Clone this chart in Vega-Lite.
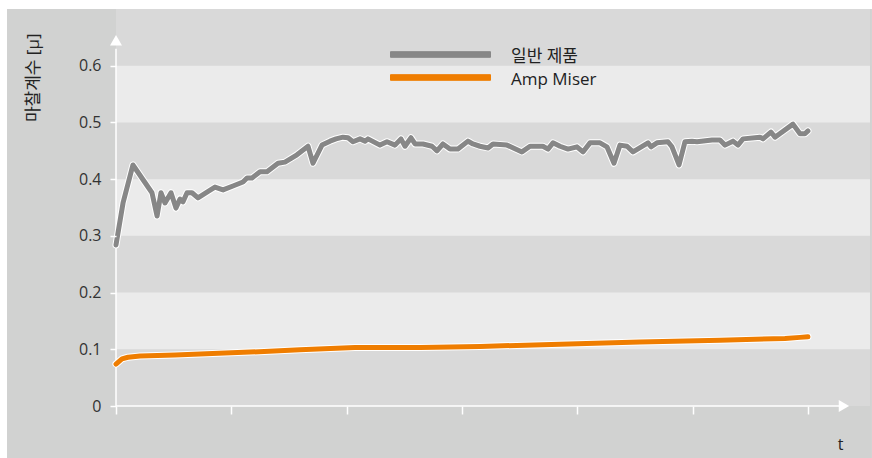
{
  "$schema": "https://vega.github.io/schema/vega-lite/v6.json",
  "autosize": {"type": "none"},
  "width": 754,
  "height": 397,
  "padding": {"left": 116, "top": 9, "right": 2, "bottom": 52},
  "background": "white",
  "config": {
    "view": {"stroke": null},
    "font": "Open Sans, Noto Sans CJK KR",
    "axis": {"labelFont": "Open Sans, Noto Sans CJK KR", "titleFont": "Open Sans, Noto Sans CJK KR"}
  },
  "datasets": {
    "lines": [
      {"series": "일반 제품", "t": 0, "mu": 0.284},
      {"series": "일반 제품", "t": 0.061, "mu": 0.358},
      {"series": "일반 제품", "t": 0.147, "mu": 0.425},
      {"series": "일반 제품", "t": 0.312, "mu": 0.376},
      {"series": "일반 제품", "t": 0.356, "mu": 0.335},
      {"series": "일반 제품", "t": 0.39, "mu": 0.376},
      {"series": "일반 제품", "t": 0.425, "mu": 0.358},
      {"series": "일반 제품", "t": 0.477, "mu": 0.376},
      {"series": "일반 제품", "t": 0.52, "mu": 0.349},
      {"series": "일반 제품", "t": 0.555, "mu": 0.365},
      {"series": "일반 제품", "t": 0.581, "mu": 0.36},
      {"series": "일반 제품", "t": 0.616, "mu": 0.376},
      {"series": "일반 제품", "t": 0.659, "mu": 0.376},
      {"series": "일반 제품", "t": 0.711, "mu": 0.367},
      {"series": "일반 제품", "t": 0.789, "mu": 0.377},
      {"series": "일반 제품", "t": 0.858, "mu": 0.386},
      {"series": "일반 제품", "t": 0.928, "mu": 0.381},
      {"series": "일반 제품", "t": 1.014, "mu": 0.388},
      {"series": "일반 제품", "t": 1.101, "mu": 0.395},
      {"series": "일반 제품", "t": 1.136, "mu": 0.402},
      {"series": "일반 제품", "t": 1.179, "mu": 0.402},
      {"series": "일반 제품", "t": 1.249, "mu": 0.413},
      {"series": "일반 제품", "t": 1.309, "mu": 0.413},
      {"series": "일반 제품", "t": 1.405, "mu": 0.428},
      {"series": "일반 제품", "t": 1.465, "mu": 0.43},
      {"series": "일반 제품", "t": 1.569, "mu": 0.443},
      {"series": "일반 제품", "t": 1.665, "mu": 0.458},
      {"series": "일반 제품", "t": 1.708, "mu": 0.428},
      {"series": "일반 제품", "t": 1.786, "mu": 0.46},
      {"series": "일반 제품", "t": 1.856, "mu": 0.467},
      {"series": "일반 제품", "t": 1.908, "mu": 0.471},
      {"series": "일반 제품", "t": 1.968, "mu": 0.474},
      {"series": "일반 제품", "t": 2.012, "mu": 0.473},
      {"series": "일반 제품", "t": 2.055, "mu": 0.466},
      {"series": "일반 제품", "t": 2.116, "mu": 0.471},
      {"series": "일반 제품", "t": 2.159, "mu": 0.467},
      {"series": "일반 제품", "t": 2.185, "mu": 0.471},
      {"series": "일반 제품", "t": 2.289, "mu": 0.46},
      {"series": "일반 제품", "t": 2.35, "mu": 0.466},
      {"series": "일반 제품", "t": 2.419, "mu": 0.46},
      {"series": "일반 제품", "t": 2.471, "mu": 0.471},
      {"series": "일반 제품", "t": 2.506, "mu": 0.458},
      {"series": "일반 제품", "t": 2.558, "mu": 0.473},
      {"series": "일반 제품", "t": 2.593, "mu": 0.462},
      {"series": "일반 제품", "t": 2.662, "mu": 0.462},
      {"series": "일반 제품", "t": 2.74, "mu": 0.458},
      {"series": "일반 제품", "t": 2.783, "mu": 0.45},
      {"series": "일반 제품", "t": 2.835, "mu": 0.462},
      {"series": "일반 제품", "t": 2.896, "mu": 0.453},
      {"series": "일반 제품", "t": 2.965, "mu": 0.453},
      {"series": "일반 제품", "t": 3.052, "mu": 0.467},
      {"series": "일반 제품", "t": 3.095, "mu": 0.462},
      {"series": "일반 제품", "t": 3.156, "mu": 0.458},
      {"series": "일반 제품", "t": 3.226, "mu": 0.455},
      {"series": "일반 제품", "t": 3.269, "mu": 0.462},
      {"series": "일반 제품", "t": 3.39, "mu": 0.46},
      {"series": "일반 제품", "t": 3.52, "mu": 0.448},
      {"series": "일반 제품", "t": 3.59, "mu": 0.458},
      {"series": "일반 제품", "t": 3.702, "mu": 0.458},
      {"series": "일반 제품", "t": 3.746, "mu": 0.453},
      {"series": "일반 제품", "t": 3.789, "mu": 0.464},
      {"series": "일반 제품", "t": 3.85, "mu": 0.458},
      {"series": "일반 제품", "t": 3.919, "mu": 0.453},
      {"series": "일반 제품", "t": 3.997, "mu": 0.457},
      {"series": "일반 제품", "t": 4.049, "mu": 0.448},
      {"series": "일반 제품", "t": 4.11, "mu": 0.464},
      {"series": "일반 제품", "t": 4.197, "mu": 0.464},
      {"series": "일반 제품", "t": 4.257, "mu": 0.457},
      {"series": "일반 제품", "t": 4.318, "mu": 0.428},
      {"series": "일반 제품", "t": 4.37, "mu": 0.46},
      {"series": "일반 제품", "t": 4.431, "mu": 0.458},
      {"series": "일반 제품", "t": 4.483, "mu": 0.448},
      {"series": "일반 제품", "t": 4.613, "mu": 0.464},
      {"series": "일반 제품", "t": 4.639, "mu": 0.457},
      {"series": "일반 제품", "t": 4.691, "mu": 0.464},
      {"series": "일반 제품", "t": 4.786, "mu": 0.466},
      {"series": "일반 제품", "t": 4.821, "mu": 0.457},
      {"series": "일반 제품", "t": 4.882, "mu": 0.425},
      {"series": "일반 제품", "t": 4.934, "mu": 0.466},
      {"series": "일반 제품", "t": 4.994, "mu": 0.467},
      {"series": "일반 제품", "t": 5.038, "mu": 0.466},
      {"series": "일반 제품", "t": 5.168, "mu": 0.469},
      {"series": "일반 제품", "t": 5.237, "mu": 0.469},
      {"series": "일반 제품", "t": 5.281, "mu": 0.46},
      {"series": "일반 제품", "t": 5.35, "mu": 0.467},
      {"series": "일반 제품", "t": 5.393, "mu": 0.46},
      {"series": "일반 제품", "t": 5.437, "mu": 0.471},
      {"series": "일반 제품", "t": 5.584, "mu": 0.474},
      {"series": "일반 제품", "t": 5.61, "mu": 0.471},
      {"series": "일반 제품", "t": 5.679, "mu": 0.483},
      {"series": "일반 제품", "t": 5.714, "mu": 0.474},
      {"series": "일반 제품", "t": 5.87, "mu": 0.497},
      {"series": "일반 제품", "t": 5.931, "mu": 0.48},
      {"series": "일반 제품", "t": 5.974, "mu": 0.48},
      {"series": "일반 제품", "t": 6.0, "mu": 0.485},
      {"series": "Amp Miser", "t": 0, "mu": 0.074},
      {"series": "Amp Miser", "t": 0.052, "mu": 0.083},
      {"series": "Amp Miser", "t": 0.104, "mu": 0.086},
      {"series": "Amp Miser", "t": 0.208, "mu": 0.088},
      {"series": "Amp Miser", "t": 0.512, "mu": 0.09},
      {"series": "Amp Miser", "t": 1.162, "mu": 0.095},
      {"series": "Amp Miser", "t": 1.595, "mu": 0.099},
      {"series": "Amp Miser", "t": 2.072, "mu": 0.103},
      {"series": "Amp Miser", "t": 2.636, "mu": 0.103},
      {"series": "Amp Miser", "t": 3.156, "mu": 0.105},
      {"series": "Amp Miser", "t": 3.85, "mu": 0.109},
      {"series": "Amp Miser", "t": 4.543, "mu": 0.113},
      {"series": "Amp Miser", "t": 5.237, "mu": 0.116},
      {"series": "Amp Miser", "t": 5.801, "mu": 0.119},
      {"series": "Amp Miser", "t": 5.931, "mu": 0.121},
      {"series": "Amp Miser", "t": 6.0, "mu": 0.122}
    ],
    "bands": [
      {"lo": 0.5, "hi": 0.6},
      {"lo": 0.3, "hi": 0.4},
      {"lo": 0.1, "hi": 0.2}
    ],
    "one": [{}]
  },
  "resolve": {"scale": {"x": "shared", "y": "shared"}},
  "layer": [
    {
      "data": {"name": "one"},
      "mark": {"type": "rect", "fill": "#d1d2d1", "clip": false},
      "encoding": {
        "x": {"datum": -0.945, "type": "quantitative", "scale": {"domain": [0, 6.538], "nice": false, "zero": false}, "axis": {"values": [0, 1, 2, 3, 4, 5, 6], "labels": false, "domain": false, "ticks": true, "tickColor": "white", "tickSize": 8, "tickWidth": 1.5, "grid": false, "title": "t", "titleX": 724, "titleY": 38, "titleAlign": "center", "titleBaseline": "middle", "titleFontSize": 16, "titleFontWeight": "normal", "titleColor": "#222", "zindex": 1}},
        "x2": {"datum": 6.555},
        "y": {"datum": -0.0917, "type": "quantitative", "scale": {"domain": [0, 0.7], "nice": false, "zero": false}, "axis": {"values": [0, 0.1, 0.2, 0.3, 0.4, 0.5, 0.6], "format": ".1~f", "domain": false, "ticks": true, "tickColor": "white", "tickSize": 6, "tickWidth": 1.5, "grid": false, "labelFontSize": 16, "labelColor": "#333", "labelPadding": 9, "title": "마찰계수 [μ]", "titleAngle": -90, "titleX": -83, "titleY": 24, "titleAlign": "right", "titleBaseline": "middle", "titleFontSize": 17, "titleFontWeight": "normal", "titleColor": "#222", "zindex": 1}},
        "y2": {"datum": 0.7}
      }
    },
    {
      "data": {"name": "one"},
      "mark": {"type": "rect", "fill": "#d9d9d9"},
      "encoding": {
        "x": {"datum": 0, "type": "quantitative"},
        "x2": {"datum": 6.538},
        "y": {"datum": 0, "type": "quantitative"},
        "y2": {"datum": 0.7}
      }
    },
    {
      "data": {"name": "bands"},
      "mark": {"type": "rect", "fill": "#ebebeb"},
      "encoding": {
        "x": {"datum": 0, "type": "quantitative"},
        "x2": {"datum": 6.538},
        "y": {"field": "lo", "type": "quantitative"},
        "y2": {"field": "hi"}
      }
    },
    {
      "data": {"name": "one"},
      "mark": {"type": "rule", "color": "white", "strokeWidth": 1.5},
      "encoding": {
        "x": {"datum": 0, "type": "quantitative"},
        "x2": {"datum": 6.27},
        "y": {"datum": 0, "type": "quantitative"}
      }
    },
    {
      "data": {"name": "one"},
      "mark": {"type": "rule", "color": "white", "strokeWidth": 1.5},
      "encoding": {
        "x": {"datum": 0, "type": "quantitative"},
        "y": {"datum": 0, "type": "quantitative"},
        "y2": {"datum": 0.63}
      }
    },
    {
      "data": {"name": "one"},
      "mark": {"type": "point", "shape": "triangle-right", "filled": true, "color": "white", "size": 144, "opacity": 1},
      "encoding": {
        "x": {"datum": 6.312, "type": "quantitative"},
        "y": {"datum": 0, "type": "quantitative"}
      }
    },
    {
      "data": {"name": "one"},
      "mark": {"type": "point", "shape": "triangle-up", "filled": true, "color": "white", "size": 144, "opacity": 1},
      "encoding": {
        "x": {"datum": 0, "type": "quantitative"},
        "y": {"datum": 0.645, "type": "quantitative"}
      }
    },
    {
      "data": {"name": "lines"},
      "mark": {"type": "line", "color": "white", "strokeWidth": 7, "strokeCap": "round", "strokeJoin": "round"},
      "encoding": {
        "x": {"field": "t", "type": "quantitative"},
        "y": {"field": "mu", "type": "quantitative"},
        "detail": {"field": "series"},
        "order": {"field": "t"}
      }
    },
    {
      "data": {"name": "lines"},
      "mark": {"type": "line", "strokeWidth": 5, "strokeCap": "round", "strokeJoin": "round"},
      "encoding": {
        "x": {"field": "t", "type": "quantitative"},
        "y": {"field": "mu", "type": "quantitative"},
        "order": {"field": "t"},
        "color": {
          "field": "series",
          "type": "nominal",
          "scale": {"domain": ["일반 제품", "Amp Miser"], "range": ["#878787", "#ef7d00"]},
          "legend": {
            "title": null,
            "orient": "none",
            "legendX": 314,
            "legendY": 35,
            "padding": 0,
            "symbolType": "M-5,-0.28L5,-0.28L5,0.28L-5,0.28Z",
            "symbolSize": 400,
            "labelOffset": 60,
            "labelFontSize": 17,
            "labelColor": "#222",
            "rowPadding": 2,
            "encode": {
              "symbols": {
                "update": {
                  "fill": {"scale": "color", "field": "value"},
                  "stroke": {"value": "white"},
                  "strokeWidth": {"value": 1},
                  "opacity": {"value": 1}
                }
              },
              "labels": {
                "update": {
                  "dy": {"value": 2}
                }
              }
            }
          }
        }
      }
    }
  ]
}
